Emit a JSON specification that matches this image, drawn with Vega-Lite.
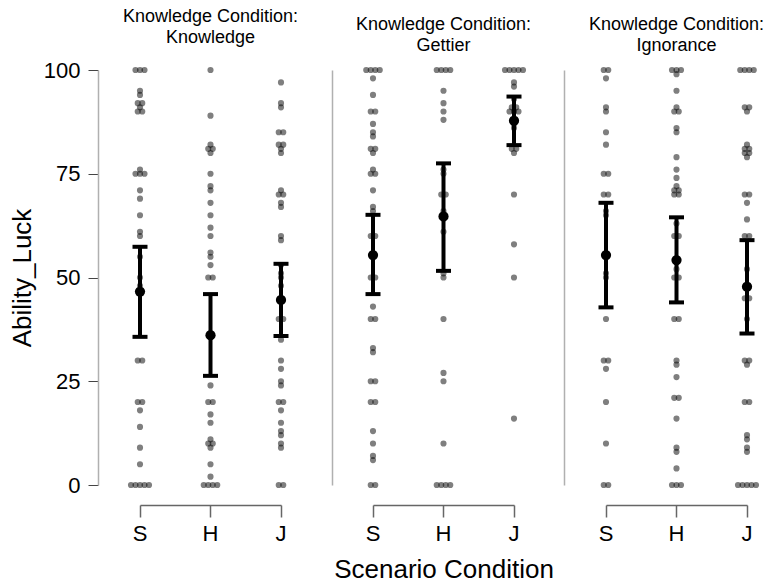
{
  "$schema": "https://vega.github.io/schema/vega-lite/v6.json",
  "padding": {"left": 9, "top": 8, "right": 5, "bottom": 5},
  "background": "white",
  "bounds": "flush",
  "spacing": 92,
  "config": {
    "font": "Liberation Sans",
    "view": {"stroke": null},
    "title": {"fontSize": 18, "fontWeight": "normal", "lineHeight": 21, "offset": 12, "anchor": "middle", "frame": "group", "color": "black", "font": "Liberation Sans"},
    "axis": {"grid": false, "labelFont": "Liberation Sans", "titleFont": "Liberation Sans", "labelColor": "black", "titleColor": "black", "titleFontWeight": "normal"}
  },
  "datasets": {
    "pts": [
      {"cond":"Knowledge","scen":"S","v":100},{"cond":"Knowledge","scen":"S","v":100},{"cond":"Knowledge","scen":"S","v":100},{"cond":"Knowledge","scen":"S","v":95},{"cond":"Knowledge","scen":"S","v":94},{"cond":"Knowledge","scen":"S","v":92},{"cond":"Knowledge","scen":"S","v":92},{"cond":"Knowledge","scen":"S","v":91},{"cond":"Knowledge","scen":"S","v":90},{"cond":"Knowledge","scen":"S","v":90},{"cond":"Knowledge","scen":"S","v":76},{"cond":"Knowledge","scen":"S","v":75},{"cond":"Knowledge","scen":"S","v":75},{"cond":"Knowledge","scen":"S","v":75},{"cond":"Knowledge","scen":"S","v":71},{"cond":"Knowledge","scen":"S","v":69},{"cond":"Knowledge","scen":"S","v":65},{"cond":"Knowledge","scen":"S","v":61},{"cond":"Knowledge","scen":"S","v":60},{"cond":"Knowledge","scen":"S","v":55},{"cond":"Knowledge","scen":"S","v":50},{"cond":"Knowledge","scen":"S","v":48},{"cond":"Knowledge","scen":"S","v":30},{"cond":"Knowledge","scen":"S","v":30},{"cond":"Knowledge","scen":"S","v":20},{"cond":"Knowledge","scen":"S","v":20},{"cond":"Knowledge","scen":"S","v":18},{"cond":"Knowledge","scen":"S","v":14},{"cond":"Knowledge","scen":"S","v":9},{"cond":"Knowledge","scen":"S","v":5},{"cond":"Knowledge","scen":"S","v":0},{"cond":"Knowledge","scen":"S","v":0},{"cond":"Knowledge","scen":"S","v":0},{"cond":"Knowledge","scen":"S","v":0},{"cond":"Knowledge","scen":"S","v":0},
      {"cond":"Knowledge","scen":"H","v":100},{"cond":"Knowledge","scen":"H","v":89},{"cond":"Knowledge","scen":"H","v":82},{"cond":"Knowledge","scen":"H","v":81},{"cond":"Knowledge","scen":"H","v":81},{"cond":"Knowledge","scen":"H","v":80},{"cond":"Knowledge","scen":"H","v":75},{"cond":"Knowledge","scen":"H","v":72},{"cond":"Knowledge","scen":"H","v":71},{"cond":"Knowledge","scen":"H","v":68},{"cond":"Knowledge","scen":"H","v":65},{"cond":"Knowledge","scen":"H","v":62},{"cond":"Knowledge","scen":"H","v":60},{"cond":"Knowledge","scen":"H","v":56},{"cond":"Knowledge","scen":"H","v":55},{"cond":"Knowledge","scen":"H","v":53},{"cond":"Knowledge","scen":"H","v":50},{"cond":"Knowledge","scen":"H","v":50},{"cond":"Knowledge","scen":"H","v":24},{"cond":"Knowledge","scen":"H","v":20},{"cond":"Knowledge","scen":"H","v":20},{"cond":"Knowledge","scen":"H","v":17},{"cond":"Knowledge","scen":"H","v":15},{"cond":"Knowledge","scen":"H","v":11},{"cond":"Knowledge","scen":"H","v":10},{"cond":"Knowledge","scen":"H","v":10},{"cond":"Knowledge","scen":"H","v":9},{"cond":"Knowledge","scen":"H","v":5},{"cond":"Knowledge","scen":"H","v":2},{"cond":"Knowledge","scen":"H","v":0},{"cond":"Knowledge","scen":"H","v":0},{"cond":"Knowledge","scen":"H","v":0},{"cond":"Knowledge","scen":"H","v":0},
      {"cond":"Knowledge","scen":"J","v":97},{"cond":"Knowledge","scen":"J","v":92},{"cond":"Knowledge","scen":"J","v":91},{"cond":"Knowledge","scen":"J","v":85},{"cond":"Knowledge","scen":"J","v":85},{"cond":"Knowledge","scen":"J","v":82},{"cond":"Knowledge","scen":"J","v":82},{"cond":"Knowledge","scen":"J","v":81},{"cond":"Knowledge","scen":"J","v":80},{"cond":"Knowledge","scen":"J","v":71},{"cond":"Knowledge","scen":"J","v":70},{"cond":"Knowledge","scen":"J","v":70},{"cond":"Knowledge","scen":"J","v":68},{"cond":"Knowledge","scen":"J","v":67},{"cond":"Knowledge","scen":"J","v":60},{"cond":"Knowledge","scen":"J","v":59},{"cond":"Knowledge","scen":"J","v":53},{"cond":"Knowledge","scen":"J","v":51},{"cond":"Knowledge","scen":"J","v":50},{"cond":"Knowledge","scen":"J","v":48},{"cond":"Knowledge","scen":"J","v":40},{"cond":"Knowledge","scen":"J","v":40},{"cond":"Knowledge","scen":"J","v":35},{"cond":"Knowledge","scen":"J","v":30},{"cond":"Knowledge","scen":"J","v":28},{"cond":"Knowledge","scen":"J","v":25},{"cond":"Knowledge","scen":"J","v":24},{"cond":"Knowledge","scen":"J","v":20},{"cond":"Knowledge","scen":"J","v":20},{"cond":"Knowledge","scen":"J","v":18},{"cond":"Knowledge","scen":"J","v":15},{"cond":"Knowledge","scen":"J","v":13},{"cond":"Knowledge","scen":"J","v":12},{"cond":"Knowledge","scen":"J","v":10},{"cond":"Knowledge","scen":"J","v":9},{"cond":"Knowledge","scen":"J","v":0},{"cond":"Knowledge","scen":"J","v":0},
      {"cond":"Gettier","scen":"S","v":100},{"cond":"Gettier","scen":"S","v":100},{"cond":"Gettier","scen":"S","v":100},{"cond":"Gettier","scen":"S","v":100},{"cond":"Gettier","scen":"S","v":98},{"cond":"Gettier","scen":"S","v":94},{"cond":"Gettier","scen":"S","v":90},{"cond":"Gettier","scen":"S","v":90},{"cond":"Gettier","scen":"S","v":87},{"cond":"Gettier","scen":"S","v":85},{"cond":"Gettier","scen":"S","v":84},{"cond":"Gettier","scen":"S","v":81},{"cond":"Gettier","scen":"S","v":81},{"cond":"Gettier","scen":"S","v":80},{"cond":"Gettier","scen":"S","v":76},{"cond":"Gettier","scen":"S","v":75},{"cond":"Gettier","scen":"S","v":75},{"cond":"Gettier","scen":"S","v":71},{"cond":"Gettier","scen":"S","v":67},{"cond":"Gettier","scen":"S","v":66},{"cond":"Gettier","scen":"S","v":60},{"cond":"Gettier","scen":"S","v":60},{"cond":"Gettier","scen":"S","v":50},{"cond":"Gettier","scen":"S","v":50},{"cond":"Gettier","scen":"S","v":43},{"cond":"Gettier","scen":"S","v":40},{"cond":"Gettier","scen":"S","v":40},{"cond":"Gettier","scen":"S","v":33},{"cond":"Gettier","scen":"S","v":32},{"cond":"Gettier","scen":"S","v":25},{"cond":"Gettier","scen":"S","v":25},{"cond":"Gettier","scen":"S","v":20},{"cond":"Gettier","scen":"S","v":20},{"cond":"Gettier","scen":"S","v":13},{"cond":"Gettier","scen":"S","v":10},{"cond":"Gettier","scen":"S","v":7},{"cond":"Gettier","scen":"S","v":6},{"cond":"Gettier","scen":"S","v":0},{"cond":"Gettier","scen":"S","v":0},
      {"cond":"Gettier","scen":"H","v":100},{"cond":"Gettier","scen":"H","v":100},{"cond":"Gettier","scen":"H","v":100},{"cond":"Gettier","scen":"H","v":100},{"cond":"Gettier","scen":"H","v":95},{"cond":"Gettier","scen":"H","v":92},{"cond":"Gettier","scen":"H","v":90},{"cond":"Gettier","scen":"H","v":88},{"cond":"Gettier","scen":"H","v":76},{"cond":"Gettier","scen":"H","v":75},{"cond":"Gettier","scen":"H","v":70},{"cond":"Gettier","scen":"H","v":70},{"cond":"Gettier","scen":"H","v":66},{"cond":"Gettier","scen":"H","v":61},{"cond":"Gettier","scen":"H","v":51},{"cond":"Gettier","scen":"H","v":50},{"cond":"Gettier","scen":"H","v":40},{"cond":"Gettier","scen":"H","v":27},{"cond":"Gettier","scen":"H","v":25},{"cond":"Gettier","scen":"H","v":10},{"cond":"Gettier","scen":"H","v":0},{"cond":"Gettier","scen":"H","v":0},{"cond":"Gettier","scen":"H","v":0},{"cond":"Gettier","scen":"H","v":0},
      {"cond":"Gettier","scen":"J","v":100},{"cond":"Gettier","scen":"J","v":100},{"cond":"Gettier","scen":"J","v":100},{"cond":"Gettier","scen":"J","v":100},{"cond":"Gettier","scen":"J","v":100},{"cond":"Gettier","scen":"J","v":97},{"cond":"Gettier","scen":"J","v":96},{"cond":"Gettier","scen":"J","v":93},{"cond":"Gettier","scen":"J","v":91},{"cond":"Gettier","scen":"J","v":91},{"cond":"Gettier","scen":"J","v":90},{"cond":"Gettier","scen":"J","v":90},{"cond":"Gettier","scen":"J","v":90},{"cond":"Gettier","scen":"J","v":87},{"cond":"Gettier","scen":"J","v":86},{"cond":"Gettier","scen":"J","v":81},{"cond":"Gettier","scen":"J","v":81},{"cond":"Gettier","scen":"J","v":80},{"cond":"Gettier","scen":"J","v":70},{"cond":"Gettier","scen":"J","v":58},{"cond":"Gettier","scen":"J","v":50},{"cond":"Gettier","scen":"J","v":16},
      {"cond":"Ignorance","scen":"S","v":100},{"cond":"Ignorance","scen":"S","v":100},{"cond":"Ignorance","scen":"S","v":98},{"cond":"Ignorance","scen":"S","v":91},{"cond":"Ignorance","scen":"S","v":90},{"cond":"Ignorance","scen":"S","v":85},{"cond":"Ignorance","scen":"S","v":82},{"cond":"Ignorance","scen":"S","v":75},{"cond":"Ignorance","scen":"S","v":75},{"cond":"Ignorance","scen":"S","v":70},{"cond":"Ignorance","scen":"S","v":70},{"cond":"Ignorance","scen":"S","v":66},{"cond":"Ignorance","scen":"S","v":65},{"cond":"Ignorance","scen":"S","v":51},{"cond":"Ignorance","scen":"S","v":50},{"cond":"Ignorance","scen":"S","v":40},{"cond":"Ignorance","scen":"S","v":30},{"cond":"Ignorance","scen":"S","v":30},{"cond":"Ignorance","scen":"S","v":28},{"cond":"Ignorance","scen":"S","v":20},{"cond":"Ignorance","scen":"S","v":10},{"cond":"Ignorance","scen":"S","v":0},{"cond":"Ignorance","scen":"S","v":0},
      {"cond":"Ignorance","scen":"H","v":100},{"cond":"Ignorance","scen":"H","v":100},{"cond":"Ignorance","scen":"H","v":100},{"cond":"Ignorance","scen":"H","v":99},{"cond":"Ignorance","scen":"H","v":95},{"cond":"Ignorance","scen":"H","v":91},{"cond":"Ignorance","scen":"H","v":90},{"cond":"Ignorance","scen":"H","v":90},{"cond":"Ignorance","scen":"H","v":86},{"cond":"Ignorance","scen":"H","v":85},{"cond":"Ignorance","scen":"H","v":79},{"cond":"Ignorance","scen":"H","v":76},{"cond":"Ignorance","scen":"H","v":74},{"cond":"Ignorance","scen":"H","v":72},{"cond":"Ignorance","scen":"H","v":71},{"cond":"Ignorance","scen":"H","v":71},{"cond":"Ignorance","scen":"H","v":70},{"cond":"Ignorance","scen":"H","v":70},{"cond":"Ignorance","scen":"H","v":63},{"cond":"Ignorance","scen":"H","v":60},{"cond":"Ignorance","scen":"H","v":60},{"cond":"Ignorance","scen":"H","v":52},{"cond":"Ignorance","scen":"H","v":50},{"cond":"Ignorance","scen":"H","v":50},{"cond":"Ignorance","scen":"H","v":40},{"cond":"Ignorance","scen":"H","v":40},{"cond":"Ignorance","scen":"H","v":30},{"cond":"Ignorance","scen":"H","v":29},{"cond":"Ignorance","scen":"H","v":26},{"cond":"Ignorance","scen":"H","v":21},{"cond":"Ignorance","scen":"H","v":21},{"cond":"Ignorance","scen":"H","v":16},{"cond":"Ignorance","scen":"H","v":9},{"cond":"Ignorance","scen":"H","v":8},{"cond":"Ignorance","scen":"H","v":4},{"cond":"Ignorance","scen":"H","v":0},{"cond":"Ignorance","scen":"H","v":0},{"cond":"Ignorance","scen":"H","v":0},
      {"cond":"Ignorance","scen":"J","v":100},{"cond":"Ignorance","scen":"J","v":100},{"cond":"Ignorance","scen":"J","v":100},{"cond":"Ignorance","scen":"J","v":100},{"cond":"Ignorance","scen":"J","v":91},{"cond":"Ignorance","scen":"J","v":91},{"cond":"Ignorance","scen":"J","v":90},{"cond":"Ignorance","scen":"J","v":82},{"cond":"Ignorance","scen":"J","v":81},{"cond":"Ignorance","scen":"J","v":81},{"cond":"Ignorance","scen":"J","v":80},{"cond":"Ignorance","scen":"J","v":80},{"cond":"Ignorance","scen":"J","v":79},{"cond":"Ignorance","scen":"J","v":70},{"cond":"Ignorance","scen":"J","v":70},{"cond":"Ignorance","scen":"J","v":68},{"cond":"Ignorance","scen":"J","v":64},{"cond":"Ignorance","scen":"J","v":60},{"cond":"Ignorance","scen":"J","v":60},{"cond":"Ignorance","scen":"J","v":52},{"cond":"Ignorance","scen":"J","v":45},{"cond":"Ignorance","scen":"J","v":45},{"cond":"Ignorance","scen":"J","v":40},{"cond":"Ignorance","scen":"J","v":30},{"cond":"Ignorance","scen":"J","v":30},{"cond":"Ignorance","scen":"J","v":29},{"cond":"Ignorance","scen":"J","v":20},{"cond":"Ignorance","scen":"J","v":20},{"cond":"Ignorance","scen":"J","v":12},{"cond":"Ignorance","scen":"J","v":11},{"cond":"Ignorance","scen":"J","v":9},{"cond":"Ignorance","scen":"J","v":8},{"cond":"Ignorance","scen":"J","v":0},{"cond":"Ignorance","scen":"J","v":0},{"cond":"Ignorance","scen":"J","v":0},{"cond":"Ignorance","scen":"J","v":0},{"cond":"Ignorance","scen":"J","v":0}
    ],
    "summ": [
      {"cond":"Knowledge","scen":"S","mean":46.6,"lo":35.7,"hi":57.4},
      {"cond":"Knowledge","scen":"H","mean":36.1,"lo":26.3,"hi":46.0},
      {"cond":"Knowledge","scen":"J","mean":44.6,"lo":35.9,"hi":53.3},
      {"cond":"Gettier","scen":"S","mean":55.4,"lo":46.0,"hi":65.1},
      {"cond":"Gettier","scen":"H","mean":64.7,"lo":51.6,"hi":77.5},
      {"cond":"Gettier","scen":"J","mean":87.8,"lo":81.9,"hi":93.6},
      {"cond":"Ignorance","scen":"S","mean":55.4,"lo":42.8,"hi":68.0},
      {"cond":"Ignorance","scen":"H","mean":54.2,"lo":44.0,"hi":64.5},
      {"cond":"Ignorance","scen":"J","mean":47.8,"lo":36.5,"hi":59.0}
    ]
  },
  "hconcat": [
    {
      "width": 141, "height": 415,
      "title": {"text": ["Knowledge Condition:", "Knowledge"]},
      "layer": [
        {
          "data": {"name": "pts"},
          "transform": [
            {"window": [{"op": "count", "as": "one"}], "frame": [0, 0]},
            {"stack": "one", "groupby": ["cond", "scen", "v"], "offset": "center", "as": ["o0", "o1"]},
            {"filter": "datum.cond === 'Knowledge'"}
          ],
          "mark": {"type": "circle", "size": 38, "color": "black", "opacity": 0.5},
          "encoding": {
            "x": {"field": "scen", "type": "nominal", "sort": ["S", "H", "J"], "scale": {"type": "band", "paddingInner": 1, "paddingOuter": 0},
                  "axis": {"title": null, "offset": 20, "domainColor": "#666", "domainWidth": 1.5, "tickColor": "#666", "tickWidth": 1.5, "tickSize": 12, "labelFontSize": 22, "labelPadding": 6, "labelAngle": 0}},
            "xOffset": {"field": "o0", "type": "quantitative", "scale": {"domain": [0, 4], "range": [-9, 9]}},
            "y": {"field": "v", "type": "quantitative", "title": "Ability_Luck", "scale": {"domain": [0, 100], "nice": false},
                  "axis": {"values": [0, 25, 50, 75, 100], "offset": 42, "domainColor": "#b0b0b0", "domainWidth": 1.5, "tickColor": "#444", "tickSize": 10, "labelFontSize": 22, "labelPadding": 8, "titleFontSize": 26, "titlePadding": 8}}
          }
        },
        {
          "data": {"name": "summ"}, "transform": [{"filter": "datum.cond === 'Knowledge'"}],
          "mark": {"type": "rule", "strokeWidth": 4, "color": "black"},
          "encoding": {"x": {"field": "scen", "type": "nominal", "sort": ["S", "H", "J"]}, "y": {"field": "lo", "type": "quantitative", "title": "Ability_Luck"}, "y2": {"field": "hi"}}
        },
        {
          "data": {"name": "summ"}, "transform": [{"filter": "datum.cond === 'Knowledge'"}],
          "mark": {"type": "tick", "size": 15, "thickness": 4, "color": "black", "opacity": 1},
          "encoding": {"x": {"field": "scen", "type": "nominal", "sort": ["S", "H", "J"]}, "y": {"field": "lo", "type": "quantitative", "title": "Ability_Luck"}}
        },
        {
          "data": {"name": "summ"}, "transform": [{"filter": "datum.cond === 'Knowledge'"}],
          "mark": {"type": "tick", "size": 15, "thickness": 4, "color": "black", "opacity": 1},
          "encoding": {"x": {"field": "scen", "type": "nominal", "sort": ["S", "H", "J"]}, "y": {"field": "hi", "type": "quantitative", "title": "Ability_Luck"}}
        },
        {
          "data": {"name": "summ"}, "transform": [{"filter": "datum.cond === 'Knowledge'"}],
          "mark": {"type": "circle", "size": 105, "color": "black", "opacity": 1},
          "encoding": {"x": {"field": "scen", "type": "nominal", "sort": ["S", "H", "J"]}, "y": {"field": "mean", "type": "quantitative", "title": "Ability_Luck"}}
        }
      ]
    },
    {
      "width": 141, "height": 415,
      "title": {"text": ["Knowledge Condition:", "Gettier"]},
      "layer": [
        {
          "data": {"name": "pts"},
          "transform": [
            {"window": [{"op": "count", "as": "one"}], "frame": [0, 0]},
            {"stack": "one", "groupby": ["cond", "scen", "v"], "offset": "center", "as": ["o0", "o1"]},
            {"filter": "datum.cond === 'Gettier'"}
          ],
          "mark": {"type": "circle", "size": 38, "color": "black", "opacity": 0.5},
          "encoding": {
            "x": {"field": "scen", "type": "nominal", "sort": ["S", "H", "J"], "scale": {"type": "band", "paddingInner": 1, "paddingOuter": 0},
                  "axis": {"title": "Scenario Condition", "offset": 20, "domainColor": "#666", "domainWidth": 1.5, "tickColor": "#666", "tickWidth": 1.5, "tickSize": 12, "labelFontSize": 22, "labelPadding": 6, "labelAngle": 0, "titleFontSize": 26, "titlePadding": 12}},
            "xOffset": {"field": "o0", "type": "quantitative", "scale": {"domain": [0, 4], "range": [-9, 9]}},
            "y": {"field": "v", "type": "quantitative", "title": null, "scale": {"domain": [0, 100], "nice": false},
                  "axis": {"labels": false, "ticks": false, "title": null, "offset": 41, "domainColor": "#b0b0b0", "domainWidth": 1.5}}
          }
        },
        {
          "data": {"name": "summ"}, "transform": [{"filter": "datum.cond === 'Gettier'"}],
          "mark": {"type": "rule", "strokeWidth": 4, "color": "black"},
          "encoding": {"x": {"field": "scen", "type": "nominal", "sort": ["S", "H", "J"], "title": "Scenario Condition"}, "y": {"field": "lo", "type": "quantitative", "title": null}, "y2": {"field": "hi"}}
        },
        {
          "data": {"name": "summ"}, "transform": [{"filter": "datum.cond === 'Gettier'"}],
          "mark": {"type": "tick", "size": 15, "thickness": 4, "color": "black", "opacity": 1},
          "encoding": {"x": {"field": "scen", "type": "nominal", "sort": ["S", "H", "J"], "title": "Scenario Condition"}, "y": {"field": "lo", "type": "quantitative", "title": null}}
        },
        {
          "data": {"name": "summ"}, "transform": [{"filter": "datum.cond === 'Gettier'"}],
          "mark": {"type": "tick", "size": 15, "thickness": 4, "color": "black", "opacity": 1},
          "encoding": {"x": {"field": "scen", "type": "nominal", "sort": ["S", "H", "J"], "title": "Scenario Condition"}, "y": {"field": "hi", "type": "quantitative", "title": null}}
        },
        {
          "data": {"name": "summ"}, "transform": [{"filter": "datum.cond === 'Gettier'"}],
          "mark": {"type": "circle", "size": 105, "color": "black", "opacity": 1},
          "encoding": {"x": {"field": "scen", "type": "nominal", "sort": ["S", "H", "J"], "title": "Scenario Condition"}, "y": {"field": "mean", "type": "quantitative", "title": null}}
        }
      ]
    },
    {
      "width": 141, "height": 415,
      "title": {"text": ["Knowledge Condition:", "Ignorance"]},
      "layer": [
        {
          "data": {"name": "pts"},
          "transform": [
            {"window": [{"op": "count", "as": "one"}], "frame": [0, 0]},
            {"stack": "one", "groupby": ["cond", "scen", "v"], "offset": "center", "as": ["o0", "o1"]},
            {"filter": "datum.cond === 'Ignorance'"}
          ],
          "mark": {"type": "circle", "size": 38, "color": "black", "opacity": 0.5},
          "encoding": {
            "x": {"field": "scen", "type": "nominal", "sort": ["S", "H", "J"], "scale": {"type": "band", "paddingInner": 1, "paddingOuter": 0},
                  "axis": {"title": null, "offset": 20, "domainColor": "#666", "domainWidth": 1.5, "tickColor": "#666", "tickWidth": 1.5, "tickSize": 12, "labelFontSize": 22, "labelPadding": 6, "labelAngle": 0}},
            "xOffset": {"field": "o0", "type": "quantitative", "scale": {"domain": [0, 4], "range": [-9, 9]}},
            "y": {"field": "v", "type": "quantitative", "title": null, "scale": {"domain": [0, 100], "nice": false},
                  "axis": {"labels": false, "ticks": false, "title": null, "offset": 42, "domainColor": "#b0b0b0", "domainWidth": 1.5}}
          }
        },
        {
          "data": {"name": "summ"}, "transform": [{"filter": "datum.cond === 'Ignorance'"}],
          "mark": {"type": "rule", "strokeWidth": 4, "color": "black"},
          "encoding": {"x": {"field": "scen", "type": "nominal", "sort": ["S", "H", "J"], "title": null}, "y": {"field": "lo", "type": "quantitative", "title": null}, "y2": {"field": "hi"}}
        },
        {
          "data": {"name": "summ"}, "transform": [{"filter": "datum.cond === 'Ignorance'"}],
          "mark": {"type": "tick", "size": 15, "thickness": 4, "color": "black", "opacity": 1},
          "encoding": {"x": {"field": "scen", "type": "nominal", "sort": ["S", "H", "J"], "title": null}, "y": {"field": "lo", "type": "quantitative", "title": null}}
        },
        {
          "data": {"name": "summ"}, "transform": [{"filter": "datum.cond === 'Ignorance'"}],
          "mark": {"type": "tick", "size": 15, "thickness": 4, "color": "black", "opacity": 1},
          "encoding": {"x": {"field": "scen", "type": "nominal", "sort": ["S", "H", "J"], "title": null}, "y": {"field": "hi", "type": "quantitative", "title": null}}
        },
        {
          "data": {"name": "summ"}, "transform": [{"filter": "datum.cond === 'Ignorance'"}],
          "mark": {"type": "circle", "size": 105, "color": "black", "opacity": 1},
          "encoding": {"x": {"field": "scen", "type": "nominal", "sort": ["S", "H", "J"], "title": null}, "y": {"field": "mean", "type": "quantitative", "title": null}}
        }
      ]
    }
  ]
}
